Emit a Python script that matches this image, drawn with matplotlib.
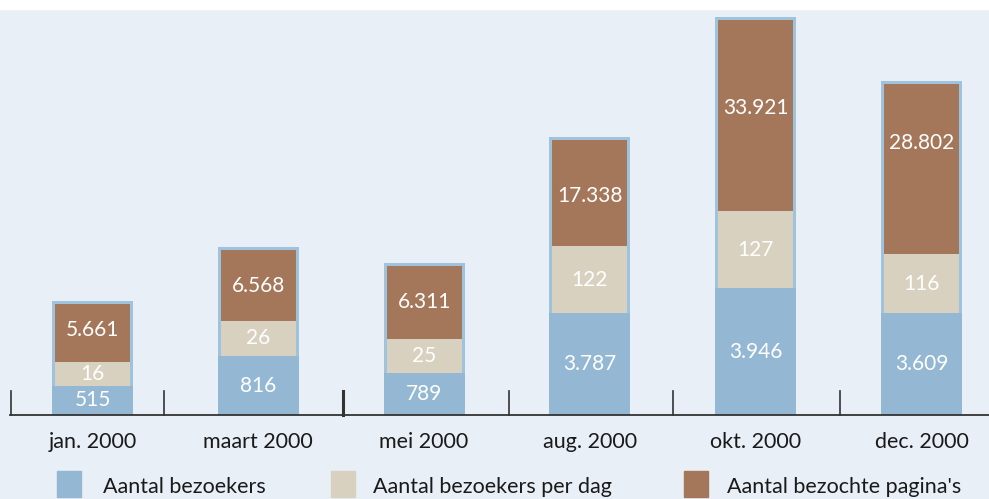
import matplotlib
matplotlib.use("Agg")
import matplotlib.pyplot as plt
from matplotlib.patches import Rectangle

# ---------- data ----------
categories = ["jan. 2000", "maart 2000", "mei 2000", "aug. 2000", "okt. 2000", "dec. 2000"]
bezoekers = ["515", "816", "789", "3.787", "3.946", "3.609"]
per_dag = ["16", "26", "25", "122", "127", "116"]
paginas = ["5.661", "6.568", "6.311", "17.338", "33.921", "28.802"]
series_names = ["Aantal bezoekers", "Aantal bezoekers per dag", "Aantal bezochte pagina's"]

# drawn segment heights (the original is not to scale)
h_bezoekers = [29, 59, 42, 102, 127, 102]
h_per_dag = [24, 35, 34, 67, 77, 59]
h_paginas = [58, 71, 73, 106, 191, 170]

# separators on the base line, in category units
sep_ticks = [-0.49, 0.43, 1.51, 2.51, 3.50, 4.51]

# ---------- style ----------
BG = "#e8eff7"
C_BLUE = "#94b8d3"
C_BEIGE = "#d9d1bf"
C_BROWN = "#a5775a"
C_EDGE = "#9fc3dc"
FONT = "Lato"

W, H = 989, 499
fig = plt.figure(figsize=(W / 100, H / 100), dpi=100, facecolor=BG)
ax = fig.add_axes([0, 0, 1, 1])
ax.set_facecolor(BG)

step = 165.8
x0 = 92.5
ax.set_xlim(-x0 / step, (W - x0) / step)
ax.set_ylim(-(H - 415), 415)
ax.axis("off")

bw = 81 / step
inset = 3 / step
x = list(range(len(categories)))

tot = [a + b + c for a, b, c in zip(h_bezoekers, h_per_dag, h_paginas)]
ax.bar(x, [t + 3 for t in tot], width=bw, color=C_EDGE, zorder=1)
ax.bar(x, h_bezoekers, width=bw, color=C_BLUE, zorder=2)
ax.bar(x, h_per_dag, width=bw - 2 * inset, bottom=h_bezoekers, color=C_BEIGE, zorder=2)
bot2 = [a + b for a, b in zip(h_bezoekers, h_per_dag)]
ax.bar(x, h_paginas, width=bw - 2 * inset, bottom=bot2, color=C_BROWN, zorder=2)

brown_shift = [3, 0, 1, -3, 8, 26]
for i in x:
    kw = dict(ha="center", va="center", color="white", fontsize=15, family=FONT, zorder=3)
    ax.text(i, h_bezoekers[i] / 2, bezoekers[i], **kw)
    ax.text(i, h_bezoekers[i] + h_per_dag[i] / 2, per_dag[i], **kw)
    ax.text(i, bot2[i] + h_paginas[i] / 2 + brown_shift[i], paginas[i], **kw)
    ax.text(i, -27, categories[i], ha="center", va="center", color="#1a1a1a",
            fontsize=15.5, family=FONT)

# base line and separators
ax.plot([(10 - x0) / step, (W - x0) / step], [0, 0], color="#333333", lw=1.3, zorder=4)
for k, t in enumerate(sep_ticks):
    ax.plot([t, t], [0, 24], color="#333333", lw=2.2 if k == 2 else 1.2, zorder=4)

# white strip at the top
fig.patches.append(Rectangle((0, 1 - 9 / H), 1, 9 / H, transform=fig.transFigure,
                             color="white", zorder=0))

# legend
leg_sq = [57, 331, 684]
leg_txt = [103, 373, 727]
for name, col, sx, tx in zip(series_names, [C_BLUE, C_BEIGE, C_BROWN], leg_sq, leg_txt):
    fig.patches.append(Rectangle((sx / W, 1 - 497 / H), 24 / W, 26 / H,
                                 transform=fig.transFigure, color=col))
    fig.text(tx / W, 1 - 487 / H, name, ha="left", va="center", color="#1a1a1a",
             fontsize=15.5, family=FONT)

fig.savefig("out.png", dpi=100, facecolor=BG)
